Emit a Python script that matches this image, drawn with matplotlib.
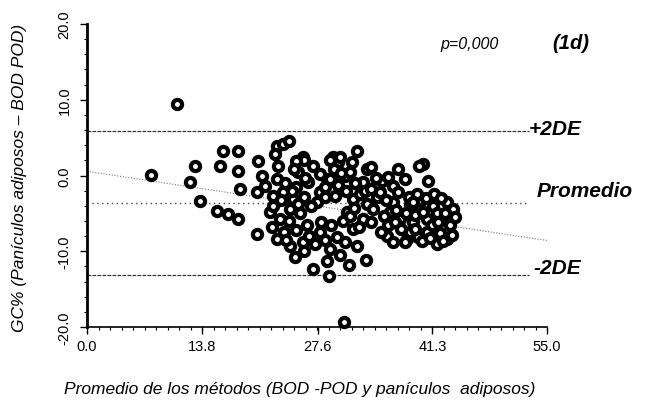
import matplotlib
matplotlib.use("Agg")
import matplotlib.pyplot as plt
import numpy as np

plt.rcParams['font.family'] = ['Liberation Sans', 'DejaVu Sans']

# Bland-Altman data: mean of methods (x) and difference (y)
x_vals = [10.8, 7.7, 30.7, 12.9, 12.3, 13.5, 15.6, 16.9, 18.1, 16.3,
          18.1, 15.9, 18.1, 20.5, 20.9, 22.7, 18.3, 20.3, 22.2, 20.3,
          21.9, 22.1, 22.7, 23.4, 22.5, 22.8, 22.7, 25.8, 25.2, 27.0,
          26.4, 29.4, 30.0, 32.3, 31.7, 30.9, 28.7, 27.9, 23.4, 24.6,
          33.5, 33.0, 29.7, 31.8, 24.9, 27.0, 28.7, 28.9, 23.1, 23.5,
          26.3, 27.9, 29.9, 31.8, 33.0, 32.3, 33.3, 24.3, 29.1, 25.8,
          31.1, 24.3, 22.2, 33.9, 35.3, 36.6, 38.0, 40.2, 40.8, 34.7,
          33.5, 43.1, 36.6, 38.6, 35.9, 36.6, 38.3, 39.6, 41.9, 43.1,
          43.4, 42.5, 40.7, 39.0, 37.4, 36.2, 34.2, 33.9, 39.8, 41.4,
          43.8, 38.6, 40.7, 42.2, 24.2, 26.0, 25.0, 29.1, 30.3, 21.3,
          25.0, 26.0, 27.5, 28.5, 30.0, 31.0, 32.0, 25.5, 26.8, 30.6,
          32.5, 24.2, 25.0, 26.5, 28.0, 29.2, 30.8, 31.5, 27.3, 28.5,
          23.7, 24.8, 26.1, 27.8, 29.5, 31.4, 32.6, 23.2, 24.5, 30.2,
          31.3, 26.0, 23.8, 25.2, 28.4, 29.0, 30.4, 31.9, 33.2, 34.0,
          34.5, 35.0, 35.8, 37.2, 38.5, 39.5, 40.5, 41.5, 42.3, 35.5,
          37.0, 38.2, 39.2, 40.2, 41.8, 42.8, 36.0, 37.5, 39.2, 41.2,
          42.0, 35.2, 36.8, 38.0, 40.0, 41.0, 42.6, 43.6, 44.0, 39.0,
          36.0, 37.2, 39.7]
y_vals = [9.4, 0.1, -19.4, 1.3, -0.9, -3.4, -4.7, -5.1, -5.7, 3.2,
          3.2, 1.3, 0.6, 1.9, -0.1, 3.9, -1.8, -2.2, -2.7, -7.7,
          -4.8, -6.8, -8.4, 4.2, 2.9, 1.3, -0.5, 2.4, 0.5, 1.3,
          -0.9, 2.4, 1.8, 3.2, 1.8, -0.1, -0.5, -2.2, -2.2, -3.1,
          0.9, -0.9, -2.7, -3.1, -10.8, -12.3, -11.3, -13.3, -5.7, -7.4,
          -6.6, -7.5, -8.1, -7.1, -5.7, -9.3, -11.2, -9.3, -9.7, -8.8,
          -4.8, -4.4, -4.0, 1.1, -0.7, -1.4, -0.5, 1.5, -0.7, -2.8,
          -3.8, -3.5, -3.5, -3.8, -8.0, -8.8, -8.4, -8.1, -9.0, -8.4,
          -6.6, -5.7, -5.7, -6.1, -5.7, -4.8, -4.4, -6.1, -4.4, -4.0,
          -4.4, -7.5, -7.5, -7.6, 4.6, 2.1, 1.9, 2.1, 2.5, -1.4,
          -1.5, -2.8, -3.5, -1.5, -1.2, -2.0, -1.0, -5.0, -4.0, -6.0,
          -6.8, -6.0, -7.2, -8.0, -6.2, -6.5, -8.8, -5.3, -9.0, -8.5,
          -1.0, 0.8, -0.3, 0.2, 0.8, 0.5, -2.4, -3.2, -2.0, -10.5,
          -11.8, -10.0, -8.5, -3.8, -2.8, -0.5, 0.3, -4.3, -2.0, -1.8,
          -0.3, -2.2, -3.2, -2.2, -2.8, -2.5, -3.0, -2.4, -3.0, -5.3,
          -4.5, -5.0, -5.2, -4.8, -5.0, -4.9, -6.6, -7.0, -7.0, -6.5,
          -6.2, -7.4, -6.2, -8.8, -8.6, -8.2, -8.7, -7.8, -5.5, -3.5,
          -0.2, 0.8, 1.2]

mean_diff = -3.6
upper_2sd = 5.9
lower_2sd = -13.1
reg_intercept = 0.55
reg_slope = -0.166

x_ticks = [0.0, 13.8, 27.6, 41.3, 55.0]
x_ticklabels = ["0.0", "13.8", "27.6", "41.3", "55.0"]
y_ticks = [-20, -10, 0, 10, 20]
y_ticklabels = ["-20.0", "-10.0", "0.0", "10.0", "20.0"]

fig = plt.figure(figsize=(6.45, 4.14), dpi=100)
ax = fig.add_axes([87/645, 1-328/414, 460/645, 303/414])
ax.set_xlim(0, 55)
ax.set_ylim(-20, 20)

# reference lines
ax.plot([0, 52.8], [upper_2sd, upper_2sd], color='#333333', lw=0.9,
        linestyle=(0, (3, 1)), zorder=1)
ax.plot([0, 52.8], [lower_2sd, lower_2sd], color='#333333', lw=0.9,
        linestyle=(0, (3, 1)), zorder=1)
ax.plot([0, 52.8], [mean_diff, mean_diff], color='#444444', lw=1.0,
        linestyle=(0, (1, 2.5)), zorder=1)
xr = np.array([0, 55])
ax.plot(xr, reg_intercept + reg_slope * xr, color='#777777', lw=0.8,
        linestyle=(0, (1, 1.5)), zorder=1)

ax.plot(x_vals, y_vals, linestyle='none', marker='o', ms=6.6,
        mfc='white', mec='black', mew=3.0, zorder=3, clip_on=False)

for s in ['top', 'right']:
    ax.spines[s].set_visible(False)
ax.spines['left'].set_linewidth(2.0)
ax.spines['bottom'].set_linewidth(1.2)
ax.spines['bottom'].set_linestyle((0, (6, 1)))

ax.set_xticks(x_ticks)
ax.set_xticklabels(x_ticklabels, fontsize=10.5)
ax.set_yticks(y_ticks)
ax.set_yticklabels(y_ticklabels, fontsize=10.5, rotation=90, va='center')
ax.set_xticks(np.arange(0, 55.01, 55/40), minor=True)
ax.set_yticks(np.arange(-20, 20.01, 2), minor=True)
ax.tick_params(axis='both', which='major', length=5, width=1.0, direction='out')
ax.tick_params(axis='both', which='minor', length=2.5, width=0.8, direction='out')
ax.tick_params(axis='x', pad=4)
ax.tick_params(axis='y', pad=6)

# annotations
ax.text(52.8, 6.2, "+2DE", fontsize=15, fontweight='bold', style='italic',
        va='center', ha='left', clip_on=False)
ax.text(53.8, -2.0, "Promedio", fontsize=15, fontweight='bold', style='italic',
        va='center', ha='left', clip_on=False)
ax.text(53.4, -12.1, "-2DE", fontsize=15, fontweight='bold', style='italic',
        va='center', ha='left', clip_on=False)
ax.text(42.2, 17.4, "p=0,000", fontsize=11.5, style='italic',
        va='center', ha='left', clip_on=False)
ax.text(55.6, 17.5, "(1d)", fontsize=14.5, fontweight='bold', style='italic',
        va='center', ha='left', clip_on=False)

fig.text(0.465, 1-390/414, "Promedio de los métodos (BOD -POD y panículos  adiposos)",
         fontsize=12.5, style='italic', ha='center', va='center')
fig.text(20/645, 1-178/414, "GC% (Panículos adiposos \u2013 BOD POD)",
         fontsize=12.5, style='italic', ha='center', va='center', rotation=90)

fig.savefig("out.png", dpi=100)
